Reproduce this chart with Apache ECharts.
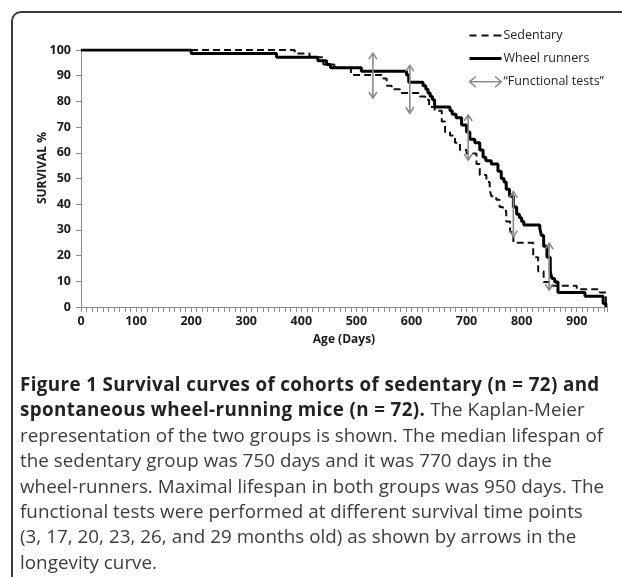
<!DOCTYPE html>
<html>
<head>
<meta charset="utf-8">
<script src="https://cdn.jsdelivr.net/npm/echarts@6/dist/echarts.min.js"></script>
<style>
  html, body { margin:0; padding:0; background:#fff; overflow:hidden; width:622px; height:577px; }
  #frame { position:absolute; left:11px; top:11px; width:700px; height:700px; border:2px solid #3a3a3a; border-radius:10px; box-sizing:border-box; }
  #chart { position:absolute; left:0; top:0; width:622px; height:577px; }
  #caption { position:absolute; left:20px; top:372px; width:600px; font-family:'Open Sans', sans-serif; font-size:18.8px; line-height:25.4px; color:#3c3c3c; white-space:nowrap; letter-spacing:0.04px; }
  #caption b { color:#222; letter-spacing:0.38px; }
</style>
</head>
<body>
<div id="frame"></div>
<div id="chart"></div>
<div id="caption"><b>Figure 1 Survival curves of cohorts of sedentary (n = 72) and<br>spontaneous wheel-running mice (n = 72).</b> The Kaplan-Meier<br>representation of the two groups is shown. The median lifespan of<br>the sedentary group was 750 days and it was 770 days in the<br>wheel-runners. Maximal lifespan in both groups was 950 days. The<br>functional tests were performed at different survival time points<br>(3, 17, 20, 23, 26, and 29 months old) as shown by arrows in the<br>longevity curve.</div>
<script>
// Sedentary (dashed) Kaplan-Meier steps: day at which survival becomes value
const sedDays = [0, 388, 415, 440, 460, 490, 549, 555, 564, 579, 615, 625, 632, 642, 655, 661, 670, 679, 688, 700, 718, 724, 736, 742, 745, 754, 760, 766, 772, 779, 785, 821, 830, 840, 850, 900, 942, 953];
const sedSurv = [100, 98.6, 97.2, 94.4, 93.1, 90.3, 88.9, 86.1, 84.7, 83.3, 81.9, 80.6, 77.8, 76.4, 72.2, 68.1, 66.7, 63.9, 61.1, 59.7, 55.6, 51.4, 48.6, 45.8, 43.1, 41.7, 38.9, 37.5, 33.3, 29.2, 25.0, 19.4, 13.9, 9.7, 8.3, 6.9, 5.6, 0];
// Wheel runners (solid)
const runDays = [0, 200, 355, 430, 446, 453, 509, 591, 595, 621, 626, 630, 634, 638, 642, 670, 674, 681, 691, 700, 706, 715, 724, 730, 735, 745, 757, 763, 768, 772, 778, 785, 791, 796, 800, 804, 833, 836, 840, 846, 852, 855, 860, 866, 915, 948, 953];
const runSurv = [100, 98.6, 97.2, 95.8, 94.4, 93.1, 91.7, 90.3, 87.5, 86.1, 84.7, 83.3, 81.9, 80.6, 77.8, 76.4, 75.0, 73.6, 70.8, 68.1, 65.3, 63.9, 61.1, 58.3, 56.9, 55.6, 52.8, 50.0, 48.6, 45.8, 43.1, 38.9, 36.1, 34.7, 33.3, 31.9, 30.6, 27.8, 23.6, 19.4, 13.9, 11.1, 9.7, 5.6, 4.2, 1.4, 0];
// Functional tests arrows
const testDays = [530, 597, 703, 785, 850];
const testTop = [98.8, 94.0, 74.7, 44.9, 24.8];
const testBottom = [81.3, 75.4, 57.2, 27.4, 6.6];
// Axis ticks
const yTicks = [0, 10, 20, 30, 40, 50, 60, 70, 80, 90, 100];
const xTickLabels = ['0', '100', '200', '300', '400', '500', '600', '700', '800', '900'];

const chart = echarts.init(document.getElementById('chart'), null, { renderer: 'canvas' });
const font = "'Open Sans', sans-serif";
const axisGray = '#8a8a8a';

const arrowData = testDays.map((d, i) => [d, testTop[i], testBottom[i]]);

chart.setOption({
  animation: false,
  backgroundColor: 'transparent',
  grid: { left: 81, top: 50, right: 15, bottom: 270 },
  legend: {
    orient: 'vertical',
    left: 462,
    top: 23,
    itemWidth: 32,
    itemHeight: 12,
    itemGap: 8,
    textStyle: { fontFamily: font, fontSize: 12.5, color: '#222', padding: [0, 0, 0, -3] },
    data: [
      { name: 'Sedentary',
        icon: 'path://M0,0 M32,10 M0,5 L7,5 M12,5 L19,5 M24,5 L32,5',
        itemStyle: { color: 'none', borderColor: '#111', borderWidth: 2 } },
      { name: 'Wheel runners',
        icon: 'path://M0,0 M32,10 M0,5 L32,5',
        itemStyle: { color: 'none', borderColor: '#000', borderWidth: 3 } },
      { name: '\u201cFunctional tests\u201d',
        icon: 'path://M0,5 L30,5 M6,0 L0,5 L6,10 M24,0 L30,5 L24,10',
        itemStyle: { color: 'none', borderColor: '#8a8a8a', borderWidth: 1.5 } }
    ]
  },
  xAxis: {
    type: 'value',
    min: 0, max: 955, interval: 100,
    name: 'Age (Days)', nameLocation: 'middle', nameGap: 27,
    nameTextStyle: { fontFamily: font, fontWeight: 'bold', fontSize: 12, color: '#1a1a1a' },
    axisLine: { show: true, lineStyle: { color: axisGray, width: 1 } },
    axisTick: { show: true, length: 5, lineStyle: { color: axisGray } },
    minorTick: { show: true, splitNumber: 10, length: 5, lineStyle: { color: axisGray } },
    splitLine: { show: false },
    axisLabel: {
      fontFamily: font, fontWeight: 'bold', fontSize: 12.5, color: '#1a1a1a', margin: 8,
      showMaxLabel: false,
      formatter: v => { const i = xTickLabels.indexOf(String(v)); return i >= 0 ? xTickLabels[i] : ''; }
    }
  },
  yAxis: {
    type: 'value',
    min: 0, max: 100, interval: 10,
    name: 'SURVIVAL %', nameLocation: 'middle', nameGap: 32, nameMoveOverlap: false,
    nameTextStyle: { fontFamily: font, fontWeight: 'bold', fontSize: 12, color: '#1a1a1a', padding: [0, 0, 0, 21] },
    axisLine: { show: true, lineStyle: { color: axisGray, width: 1 } },
    axisTick: { show: true, length: 5, lineStyle: { color: axisGray } },
    splitLine: { show: false },
    axisLabel: {
      fontFamily: font, fontWeight: 'bold', fontSize: 12.5, color: '#1a1a1a', margin: 10,
      formatter: v => yTicks.includes(v) ? String(v) : ''
    }
  },
  series: [
    {
      name: 'Sedentary', type: 'line', step: 'end', symbol: 'none',
      data: sedDays.map((d, i) => [d, sedSurv[i]]),
      lineStyle: { color: '#111', width: 2, type: [7, 4] },
      itemStyle: { color: '#111' },
      z: 2
    },
    {
      name: 'Wheel runners', type: 'line', step: 'end', symbol: 'none',
      data: runDays.map((d, i) => [d, runSurv[i]]),
      lineStyle: { color: '#000', width: 3 },
      itemStyle: { color: '#000' },
      z: 3
    },
    {
      name: '\u201cFunctional tests\u201d', type: 'custom',
      data: arrowData,
      itemStyle: { color: '#8a8a8a' },
      z: 4,
      renderItem: function (params, api) {
        const p1 = api.coord([api.value(0), api.value(1)]);
        const p2 = api.coord([api.value(0), api.value(2)]);
        const st = { stroke: '#8a8a8a', lineWidth: 1.6, fill: 'none' };
        return {
          type: 'group',
          children: [
            { type: 'line', shape: { x1: p1[0], y1: p1[1], x2: p2[0], y2: p2[1] }, style: st },
            { type: 'polyline', shape: { points: [[p1[0] - 4, p1[1] + 6], [p1[0], p1[1]], [p1[0] + 4, p1[1] + 6]] }, style: st },
            { type: 'polyline', shape: { points: [[p2[0] - 4, p2[1] - 6], [p2[0], p2[1]], [p2[0] + 4, p2[1] - 6]] }, style: st }
          ]
        };
      }
    }
  ]
});
</script>
</body>
</html>
